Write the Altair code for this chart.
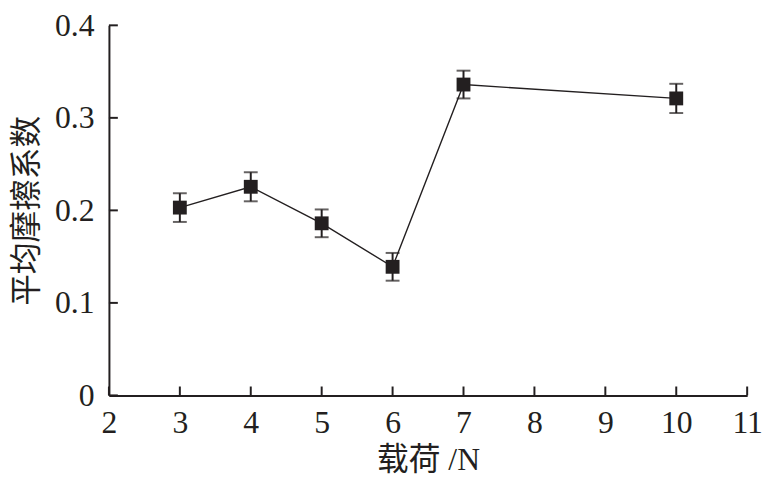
import altair as alt
import pandas as pd

load = [3, 4, 5, 6, 7, 10]
mu = [0.203, 0.2255, 0.186, 0.139, 0.336, 0.321]
err = [0.0155, 0.0157, 0.015, 0.015, 0.015, 0.0158]
x_ticks = [2, 3, 4, 5, 6, 7, 8, 9, 10, 11]
y_ticks = [0, 0.1, 0.2, 0.3, 0.4]

INK = "#231f20"
W, H = 645, 374

df = pd.DataFrame({"load": load, "mu": mu, "err": err})
df["lo"] = df["mu"] - df["err"]
df["hi"] = df["mu"] + df["err"]

xs = alt.Scale(domain=[2, 11], nice=False, zero=False)
ys = alt.Scale(domain=[0, 0.4], nice=False)

x_axis = alt.Axis(values=x_ticks, format="d", title="载荷 /N", ticks=False,
                  labelFlush=False, labelPadding=12, titlePadding=7, grid=False)
y_axis = alt.Axis(values=y_ticks, title="平均摩擦系数", ticks=False, labelFlush=False,
                  labelExpr="datum.value == 0 ? '0' : format(datum.value, '.1f')",
                  labelPadding=15, titlePadding=11, grid=False)

base = alt.Chart(df)

line = base.mark_line(color=INK, strokeWidth=1.4).encode(
    x=alt.X("load:Q", scale=xs, axis=x_axis),
    y=alt.Y("mu:Q", scale=ys, axis=y_axis),
)
bars = base.mark_rule(color=INK, strokeWidth=2).encode(
    x="load:Q", y="lo:Q", y2="hi:Q"
)
cap_lo = base.mark_tick(color=INK, orient="horizontal", size=14, thickness=2).encode(
    x="load:Q", y="lo:Q"
)
cap_hi = base.mark_tick(color=INK, orient="horizontal", size=14, thickness=2).encode(
    x="load:Q", y="hi:Q"
)
pts = base.mark_point(shape="square", filled=True, size=196, color=INK, opacity=1).encode(
    x="load:Q", y="mu:Q"
)

xt = alt.Chart(pd.DataFrame({"t": x_ticks})).mark_rule(color=INK, strokeWidth=2).encode(
    x=alt.X("t:Q", scale=xs), y=alt.value(H), y2=alt.value(H - 9)
)
yt = alt.Chart(pd.DataFrame({"t": y_ticks})).mark_rule(color=INK, strokeWidth=2).encode(
    y=alt.Y("t:Q", scale=ys), x=alt.value(0), x2=alt.value(9)
)

chart = alt.layer(line, bars, cap_lo, cap_hi, pts, xt, yt).properties(
    width=W, height=H,
    autosize=alt.AutoSizeParams(type="none"),
    padding={"left": 102, "top": 15, "right": 16, "bottom": 86},
).configure_view(stroke=None).configure_axis(
    domainColor=INK, domainWidth=2,
    labelFont="Liberation Serif", labelFontSize=32, labelColor=INK,
    titleFont="Liberation Serif, Noto Sans CJK SC", titleFontSize=32,
    titleFontWeight="normal", titleColor=INK,
)

chart.save("out.html", embed_options={"renderer": "svg", "actions": False})
